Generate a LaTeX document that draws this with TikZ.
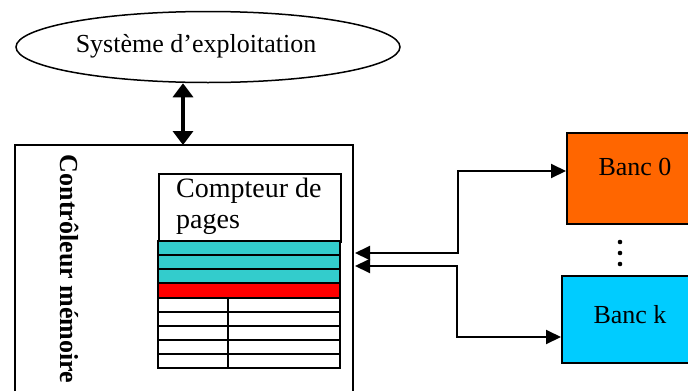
\documentclass[tikz,border=0pt]{standalone}
\usepackage{fontspec}
\setmainfont{Liberation Serif}
\usepackage{tikz}
\usetikzlibrary{shapes.geometric, arrows.meta, calc}

\definecolor{rowcyan}{HTML}{33CCCC}
\definecolor{rowred}{HTML}{FF0000}
\definecolor{bancorange}{HTML}{FF6600}
\definecolor{bancblue}{HTML}{00CCFF}

\tikzset{
  bigtext/.style={font=\fontsize{26}{31}\selectfont},
  dblarrow/.style={{Triangle[length=14pt,width=20pt]}-{Triangle[length=14pt,width=20pt]}, line width=3.5pt},
  busarrow/.style={{Triangle[length=15pt,width=14pt]}-{Triangle[length=15pt,width=14pt]}, line width=2pt},
  bank/.style={draw, line width=2pt, minimum width=140, inner sep=0pt}
}

\begin{document}
\begin{tikzpicture}[x=1pt, y=-1pt, every node/.style={bigtext}]
        \useasboundingbox (0,0) rectangle (688,391);

        % Operating system
        \node[draw, ellipse, line width=1.5pt, minimum width=384, minimum height=71] (os) at (208,47) {};
        \node (oslbl) at (196,46) {Système d’exploitation};

        % Memory controller (open at the bottom)
        \draw[line width=1.5pt] (15,391) |- (353,145) -- (353,391);
        \node[rotate=-90, font=\fontsize{26}{31}\selectfont\bfseries] (ctrl) at (70,269) {Contrôleur mémoire};
        \coordinate (ctrltop) at (183,145);
        \coordinate (in0) at (355,253);
        \coordinate (ink) at (355,266);

        % Page counter
        \node[draw, line width=1.5pt, anchor=north west, minimum width=182, minimum height=68, inner sep=0pt] (cpt) at (158,173) {};
        \node[anchor=north west, align=left, inner sep=0pt, font=\fontsize{28}{31}\selectfont] (cptlbl) at (176,178) {Compteur de\\pages};

        % Coloured rows
        \foreach \y/\c in {241/rowcyan, 255/rowcyan, 269/rowcyan, 283/rowred}
            \draw[line width=1.5pt, fill=\c] (158,\y) rectangle (340,\y+14.5);

        % Table rows
        \foreach \y in {298, 312, 326, 340, 354} {
            \draw[line width=1.2pt] (158,\y) rectangle (228,\y+14);
            \draw[line width=1.2pt] (228,\y) rectangle (340,\y+14);
        }

        % Banks
        \node[bank, fill=bancorange, minimum height=91, anchor=north west] (banc0) at (566,132) {};
        \node (banc0lbl) at (635,167) {Banc 0};
        \node[bank, fill=bancblue, minimum height=87, anchor=north west] (banck) at (561,275) {};
        \node (banclbl) at (630,315) {Banc k};
        \foreach \y in {242, 253, 264}
            \fill (620,\y) circle (2.3);

        % Connections
        \draw[dblarrow] (ctrltop |- os.south) -- (ctrltop);
        \draw[busarrow] (in0) -- ++(103,0) |- ([yshift=7.5pt]banc0.west);
        \draw[busarrow] (ink) -- ++(102,0) |- ([yshift=-17.5pt]banck.west);
    \end{tikzpicture}
\end{document}
